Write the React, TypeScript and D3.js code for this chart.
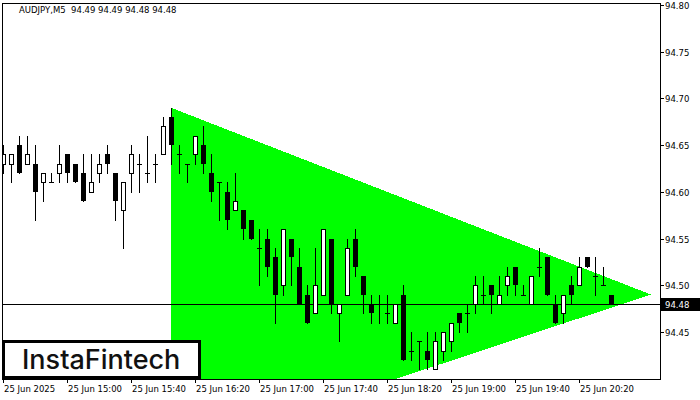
import React from "react";
import * as d3 from "d3";

// ---- data (AUDJPY, M5, 25 Jun 2025, first bar 14:20) ----
const opens = [
  94.63, 94.63, 94.65, 94.63, 94.63, 94.61, 94.61, 94.62, 94.64, 94.63,
  94.62, 94.60, 94.62, 94.64, 94.62, 94.58, 94.62, 94.63, 94.62, 94.63,
  94.64, 94.68, 94.64, 94.63, 94.64, 94.65, 94.62, 94.61, 94.60, 94.58,
  94.58, 94.57, 94.54, 94.55, 94.53, 94.50, 94.55, 94.52, 94.49, 94.47,
  94.49, 94.55, 94.47, 94.49, 94.55, 94.51, 94.48, 94.48, 94.47, 94.46,
  94.49, 94.43, 94.44, 94.43, 94.41, 94.43, 94.44, 94.47, 94.47, 94.48,
  94.49, 94.50, 94.48, 94.50, 94.52, 94.49, 94.48, 94.52, 94.53, 94.48,
  94.47, 94.50, 94.50, 94.53, 94.51, 94.50, 94.49,
];
const highs = [
  94.65, 94.64, 94.66, 94.66, 94.65, 94.62, 94.62, 94.65, 94.64, 94.63,
  94.64, 94.64, 94.64, 94.65, 94.62, 94.61, 94.65, 94.64, 94.66, 94.64,
  94.68, 94.69, 94.65, 94.63, 94.66, 94.67, 94.64, 94.61, 94.61, 94.62,
  94.58, 94.57, 94.56, 94.56, 94.54, 94.56, 94.55, 94.54, 94.50, 94.54,
  94.56, 94.55, 94.48, 94.55, 94.56, 94.51, 94.49, 94.49, 94.49, 94.48,
  94.50, 94.45, 94.44, 94.45, 94.45, 94.45, 94.46, 94.47, 94.48, 94.51,
  94.51, 94.50, 94.51, 94.52, 94.52, 94.50, 94.51, 94.54, 94.53, 94.49,
  94.49, 94.51, 94.53, 94.53, 94.53, 94.52, 94.49,
];
const lows = [
  94.62, 94.61, 94.62, 94.63, 94.57, 94.59, 94.61, 94.61, 94.61, 94.61,
  94.59, 94.60, 94.61, 94.62, 94.57, 94.54, 94.60, 94.60, 94.61, 94.61,
  94.64, 94.63, 94.62, 94.61, 94.63, 94.62, 94.59, 94.57, 94.56, 94.58,
  94.55, 94.55, 94.50, 94.51, 94.46, 94.49, 94.50, 94.48, 94.46, 94.47,
  94.49, 94.47, 94.44, 94.49, 94.51, 94.47, 94.46, 94.46, 94.46, 94.46,
  94.42, 94.42, 94.41, 94.41, 94.41, 94.42, 94.43, 94.45, 94.45, 94.47,
  94.48, 94.47, 94.48, 94.49, 94.49, 94.49, 94.48, 94.51, 94.49, 94.46,
  94.46, 94.48, 94.50, 94.52, 94.49, 94.50, 94.48,
];
const closes = [
  94.64, 94.64, 94.62, 94.64, 94.60, 94.62, 94.61, 94.63, 94.62, 94.61,
  94.59, 94.61, 94.63, 94.63, 94.59, 94.61, 94.64, 94.63, 94.62, 94.63,
  94.67, 94.65, 94.64, 94.63, 94.66, 94.63, 94.60, 94.61, 94.57, 94.59,
  94.56, 94.55, 94.54, 94.52, 94.49, 94.56, 94.53, 94.48, 94.46, 94.50,
  94.56, 94.48, 94.48, 94.54, 94.52, 94.49, 94.47, 94.48, 94.47, 94.48,
  94.42, 94.43, 94.44, 94.42, 94.44, 94.45, 94.46, 94.46, 94.47, 94.50,
  94.49, 94.49, 94.49, 94.51, 94.50, 94.49, 94.51, 94.52, 94.49, 94.46,
  94.49, 94.49, 94.52, 94.52, 94.51, 94.50, 94.48,
];

// triangle pattern vertices: [bar index, price]
const triangleIdx = [21, 81, 21];
const trianglePrice = [94.69, 94.49, 94.32];

const priceTicks = [94.45, 94.5, 94.55, 94.6, 94.65, 94.7, 94.75, 94.8];
const timeTickIdx = [0, 8, 16, 24, 32, 40, 48, 56, 64, 72];
const timeTickLabels = [
  "25 Jun 2025",
  "25 Jun 15:00",
  "25 Jun 15:40",
  "25 Jun 16:20",
  "25 Jun 17:00",
  "25 Jun 17:40",
  "25 Jun 18:20",
  "25 Jun 19:00",
  "25 Jun 19:40",
  "25 Jun 20:20",
];
const lastPrice = 94.48;
const titleText = "AUDJPY,M5  94.49 94.49 94.48 94.48";

const W = 700;
const H = 400;
const L = 2;
const R = 660;
const T = 3;
const B = 379;

export default function App() {
  const x = d3.scaleLinear().domain([0, 82.125]).range([3, 660]);
  const y = d3.scaleLinear().domain([94.4, 94.8]).range([378.6, 5]);
  const px = (i: number) => Math.round(x(i));
  const py = (p: number) => Math.round(y(p));

  const triPath =
    d3.line<number>()
      .x((_, i) => x(triangleIdx[i]))
      .y((d) => y(d))(trianglePrice) + "Z";

  const font = "'DejaVu Sans', Verdana, sans-serif";

  return (
    <svg
      width={W}
      height={H}
      style={{ position: "absolute", left: 0, top: 0, background: "#fff" }}
    >
      <defs>
        <clipPath id="plot">
          <rect x={L} y={T} width={R - L} height={B - T} />
        </clipPath>
      </defs>
      <rect x={0} y={0} width={W} height={H} fill="#fff" />
      <g clipPath="url(#plot)">
        <path d={triPath} fill="#00ff00" shapeRendering="crispEdges" />
        <line
          x1={L}
          x2={R}
          y1={py(lastPrice) + 0.5}
          y2={py(lastPrice) + 0.5}
          stroke="#000"
          strokeWidth={1}
          shapeRendering="crispEdges"
        />
        {opens.map((o, i) => {
          const c = closes[i];
          const cx = px(i);
          const yh = py(highs[i]);
          const yl = py(lows[i]);
          const yt = py(Math.max(o, c));
          const yb = py(Math.min(o, c));
          let body;
          if (c > o) {
            body = (
              <rect
                x={cx - 1.5}
                y={yt + 0.5}
                width={4}
                height={Math.max(yb - yt, 1)}
                fill="#fff"
                stroke="#000"
                strokeWidth={1}
                shapeRendering="crispEdges"
              />
            );
          } else if (c < o) {
            body = (
              <rect
                x={cx - 2}
                y={yt}
                width={5}
                height={Math.max(yb - yt, 1)}
                fill="#000"
                shapeRendering="crispEdges"
              />
            );
          } else {
            body = (
              <line
                x1={cx - 2}
                x2={cx + 3}
                y1={yt + 0.5}
                y2={yt + 0.5}
                stroke="#000"
                shapeRendering="crispEdges"
              />
            );
          }
          return (
            <g key={i}>
              <line
                x1={cx + 0.5}
                x2={cx + 0.5}
                y1={yh}
                y2={yl + 1}
                stroke="#000"
                strokeWidth={1}
                shapeRendering="crispEdges"
              />
              {body}
            </g>
          );
        })}
      </g>
      {/* frame */}
      <rect
        x={L + 0.5}
        y={T + 0.5}
        width={R - L}
        height={B - T}
        fill="none"
        stroke="#000"
        strokeWidth={1}
        shapeRendering="crispEdges"
      />
      {/* title */}
      <text x={19} y={13} fontFamily={font} fontSize={8.5} fill="#000">
        {titleText.replace(/ /g, "\u00a0")}
      </text>
      {/* right axis */}
      {priceTicks.map((p) => (
        <g key={p}>
          <line
            x1={R}
            x2={R + 4}
            y1={py(p) + 0.5}
            y2={py(p) + 0.5}
            stroke="#000"
            shapeRendering="crispEdges"
          />
          <text
            x={665}
            y={py(p) + 3.5}
            fontFamily={font}
            fontSize={8.5}
            fill="#000"
          >
            {d3.format(".2f")(p)}
          </text>
        </g>
      ))}
      {/* last price label */}
      <rect
        x={661}
        y={py(lastPrice) - 6}
        width={39}
        height={13}
        fill="#000"
      />
      <text
        x={665}
        y={py(lastPrice) + 4}
        fontFamily={font}
        fontSize={8.5}
        fill="#fff"
      >
        {d3.format(".2f")(lastPrice)}
      </text>
      {/* bottom axis */}
      {timeTickIdx.map((ti, k) => (
        <g key={ti}>
          <line
            x1={px(ti) + 0.5}
            x2={px(ti) + 0.5}
            y1={B}
            y2={B + 4}
            stroke="#000"
            shapeRendering="crispEdges"
          />
          <text
            x={px(ti) + 1}
            y={392}
            fontFamily={font}
            fontSize={8.5}
            fill="#000"
          >
            {timeTickLabels[k]}
          </text>
        </g>
      ))}
      {/* logo */}
      <rect
        x={3.5}
        y={341.5}
        width={196}
        height={36}
        fill="#fff"
        stroke="#000"
        strokeWidth={3}
      />
      <text
        x={22}
        y={369}
        fontFamily="Inter, 'Noto Sans', sans-serif"
        fontWeight={500}
        fontSize={27}
        fill="#111"
      >
        InstaFintech
      </text>
    </svg>
  );
}
